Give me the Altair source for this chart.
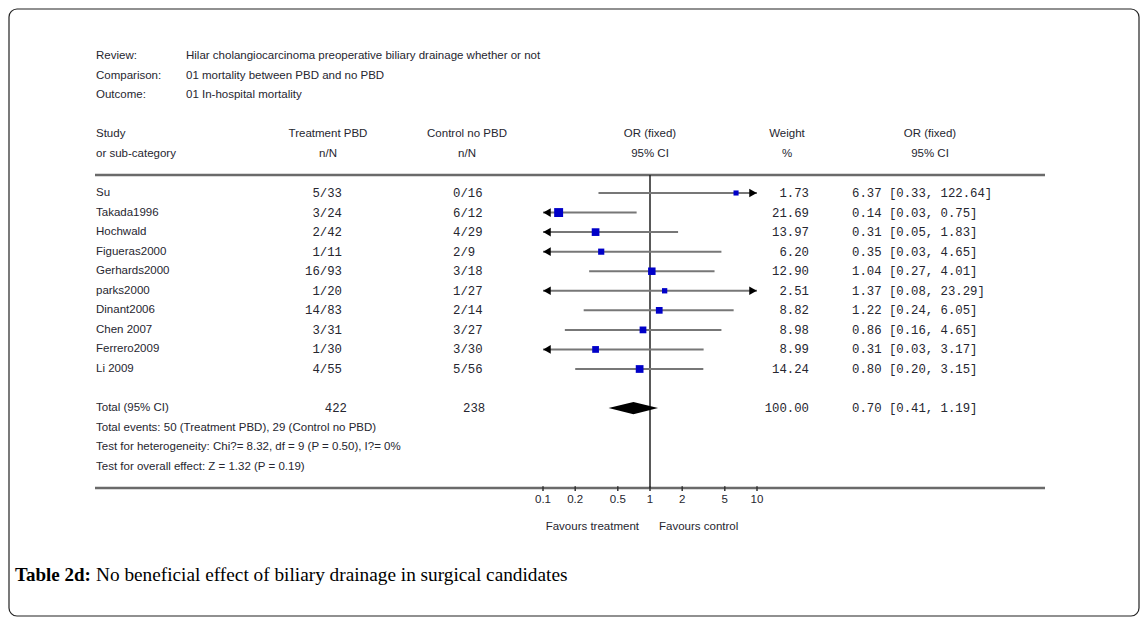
"""Forest plot: preoperative biliary drainage and in-hospital mortality"""

import pandas as pd
import altair as alt

# ---------------------------
# Data
# ---------------------------
studies = ["Su", "Takada1996", "Hochwald", "Figueras2000", "Gerhards2000",
           "parks2000", "Dinant2006", "Chen 2007", "Ferrero2009", "Li 2009"]
treatment_nN = ["5/33", "3/24", "2/42", "1/11", "16/93", "1/20", "14/83", "3/31", "1/30", "4/55"]
control_nN = ["0/16", "6/12", "4/29", "2/9", "3/18", "1/27", "2/14", "3/27", "3/30", "5/56"]
weights = [1.73, 21.69, 13.97, 6.20, 12.90, 2.51, 8.82, 8.98, 8.99, 14.24]
odds_ratios = [6.37, 0.14, 0.31, 0.35, 1.04, 1.37, 1.22, 0.86, 0.31, 0.80]
ci_low = [0.33, 0.03, 0.05, 0.03, 0.27, 0.08, 0.24, 0.16, 0.03, 0.20]
ci_high = [122.64, 0.75, 1.83, 4.65, 4.01, 23.29, 6.05, 4.65, 3.17, 3.15]

total_treatment = "422"
total_control = "238"
total_weight = 100.00
total_or, total_low, total_high = 0.70, 0.41, 1.19

axis_ticks = [0.1, 0.2, 0.5, 1, 2, 5, 10]
axis_min, axis_max = 0.1, 10

header_info = [
    ("Review:", "Hilar cholangiocarcinoma preoperative biliary drainage whether or not"),
    ("Comparison:", "01 mortality  between PBD  and no PBD"),
    ("Outcome:", "01 In-hospital mortality"),
]
footer_lines = [
    "Total events: 50 (Treatment  PBD), 29 (Control no PBD)",
    "Test for heterogeneity: Chi?= 8.32, df = 9 (P = 0.50), I?= 0%",
    "Test for overall effect: Z = 1.32 (P = 0.19)",
]

# ---------------------------
# Layout / style
# ---------------------------
W, H = 1132, 609
SANS = "Liberation Sans"
MONO = "Liberation Mono"
INK = "#26262f"
SANS_SIZE = 11.5
MONO_SIZE = 12.3

TOTAL_ROW = 11
TOP_LINE_ROW = -0.92
AXIS_ROW = 15.08

yscale = alt.Scale(domain=[0, 9], range=[185, 361], nice=False, zero=False)
xscale = alt.Scale(type="log", domain=[axis_min, axis_max], range=[535, 749], nice=False)


def text_layer(rows, labels, x, align="left", font=SANS, size=SANS_SIZE, weight="normal"):
    df = pd.DataFrame({"row": rows, "label": labels})
    return alt.Chart(df).mark_text(
        align=align, baseline="middle", font=font, fontSize=size,
        fontWeight=weight, color=INK
    ).encode(
        x=alt.value(x),
        y=alt.Y("row:Q", scale=yscale, axis=None),
        text="label:N",
    )


rows = list(range(len(studies)))
study_df = pd.DataFrame({
    "row": rows,
    "study": studies,
    "weight": weights,
    "or": odds_ratios,
    "lo": ci_low,
    "hi": ci_high,
})
study_df["lo_c"] = study_df["lo"].clip(lower=axis_min)
study_df["hi_c"] = study_df["hi"].clip(upper=axis_max)

# Header block
layers = [
    text_layer([-7, -6, -5], [h[0] for h in header_info], 88),
    text_layer([-7, -6, -5], [h[1] for h in header_info], 178),
    text_layer([-3, -2], ["Study", "or sub-category"], 88),
    text_layer([-3, -2], ["Treatment  PBD", "n/N"], 320, align="center"),
    text_layer([-3, -2], ["Control no PBD", "n/N"], 459, align="center"),
    text_layer([-3, -2], ["OR (fixed)", "95% CI"], 642, align="center"),
    text_layer([-3, -2], ["Weight", "%"], 779, align="center"),
    text_layer([-3, -2], ["OR (fixed)", "95% CI"], 922, align="center"),
]

# Study columns
layers += [
    text_layer(rows, studies, 88),
    text_layer(rows, treatment_nN, 334, align="right", font=MONO, size=MONO_SIZE),
    text_layer(rows, control_nN, 445, font=MONO, size=MONO_SIZE),
    text_layer(rows, [f"{w:.2f}" for w in weights], 801, align="right", font=MONO, size=MONO_SIZE),
    text_layer(rows, [f"{o:.2f} [{l:.2f}, {h:.2f}]" for o, l, h in zip(odds_ratios, ci_low, ci_high)],
               844, font=MONO, size=MONO_SIZE),
]

# Total + footer
layers += [
    text_layer([TOTAL_ROW], ["Total (95% CI)"], 88),
    text_layer([TOTAL_ROW], [total_treatment], 339, align="right", font=MONO, size=MONO_SIZE),
    text_layer([TOTAL_ROW], [total_control], 455, font=MONO, size=MONO_SIZE),
    text_layer([TOTAL_ROW], [f"{total_weight:.2f}"], 801, align="right", font=MONO, size=MONO_SIZE),
    text_layer([TOTAL_ROW], [f"{total_or:.2f} [{total_low:.2f}, {total_high:.2f}]"], 844,
               font=MONO, size=MONO_SIZE),
    text_layer([12, 13, 14], footer_lines, 88),
]

# Separator lines
sep_df = pd.DataFrame({"row": [TOP_LINE_ROW, AXIS_ROW]})
layers.append(
    alt.Chart(sep_df).mark_rule(color="#6a6a6a", strokeWidth=2.5).encode(
        x=alt.value(87), x2=alt.value(1037),
        y=alt.Y("row:Q", scale=yscale, axis=None),
    )
)

# Line of no effect
null_df = pd.DataFrame({"x": [1.0], "top": [TOP_LINE_ROW], "bottom": [AXIS_ROW]})
layers.append(
    alt.Chart(null_df).mark_rule(color="#222222", strokeWidth=1.5).encode(
        x=alt.X("x:Q", scale=xscale, axis=None),
        y=alt.Y("top:Q", scale=yscale, axis=None),
        y2="bottom:Q",
    )
)

# Confidence intervals
layers.append(
    alt.Chart(study_df).mark_rule(color="#777777", strokeWidth=2).encode(
        x=alt.X("lo_c:Q", scale=xscale, axis=None),
        x2="hi_c:Q",
        y=alt.Y("row:Q", scale=yscale, axis=None),
    )
)

# Arrow heads where CI runs off the axis
left_df = study_df[study_df["lo"] < axis_min]
right_df = study_df[study_df["hi"] > axis_max]
layers.append(
    alt.Chart(left_df).mark_point(shape="triangle-left", filled=True, color="black",
                                  size=75, opacity=1, xOffset=4).encode(
        x=alt.X("lo_c:Q", scale=xscale, axis=None),
        y=alt.Y("row:Q", scale=yscale, axis=None),
    )
)
layers.append(
    alt.Chart(right_df).mark_point(shape="triangle-right", filled=True, color="black",
                                   size=75, opacity=1, xOffset=-4).encode(
        x=alt.X("hi_c:Q", scale=xscale, axis=None),
        y=alt.Y("row:Q", scale=yscale, axis=None),
    )
)

# Point estimates, sized by weight
layers.append(
    alt.Chart(study_df).mark_square(color="#0000c8", opacity=1).encode(
        x=alt.X("or:Q", scale=xscale, axis=None),
        y=alt.Y("row:Q", scale=yscale, axis=None),
        size=alt.Size("weight:Q", scale=alt.Scale(domain=[1.73, 21.69], range=[26, 80]), legend=None),
    )
)

# Pooled diamond
half = 0.31
diamond_df = pd.DataFrame({
    "x": [total_low, total_or, total_high],
    "top": [TOTAL_ROW, TOTAL_ROW - half, TOTAL_ROW],
    "bottom": [TOTAL_ROW, TOTAL_ROW + half, TOTAL_ROW],
})
layers.append(
    alt.Chart(diamond_df).mark_area(color="black", orient="vertical", opacity=1).encode(
        x=alt.X("x:Q", scale=xscale, axis=None),
        y=alt.Y("top:Q", scale=yscale, axis=None),
        y2="bottom:Q",
    )
)

# Axis ticks and labels
tick_df = pd.DataFrame({
    "x": axis_ticks,
    "label": [f"{t:g}" for t in axis_ticks],
    "top": [AXIS_ROW - 0.08] * len(axis_ticks),
    "bottom": [AXIS_ROW + 0.16] * len(axis_ticks),
    "lab_row": [15.72] * len(axis_ticks),
})
layers.append(
    alt.Chart(tick_df).mark_rule(color="#333333", strokeWidth=1.5).encode(
        x=alt.X("x:Q", scale=xscale, axis=None),
        y=alt.Y("top:Q", scale=yscale, axis=None),
        y2="bottom:Q",
    )
)
layers.append(
    alt.Chart(tick_df).mark_text(font=SANS, fontSize=SANS_SIZE, color=INK, baseline="middle").encode(
        x=alt.X("x:Q", scale=xscale, axis=None),
        y=alt.Y("lab_row:Q", scale=yscale, axis=None),
        text="label:N",
    )
)
layers += [
    text_layer([17.07], ["Favours treatment"], 631, align="right"),
    text_layer([17.07], ["Favours control"], 651),
]

# Caption
caption_df = pd.DataFrame({"bold": ["Table 2d:"],
                           "rest": ["No beneficial effect of biliary drainage in surgical candidates"]})
layers.append(
    alt.Chart(caption_df).mark_text(align="left", baseline="middle", font="Liberation Serif",
                                    fontSize=19, fontWeight="bold", color="black").encode(
        x=alt.value(7), y=alt.value(567), text="bold:N"
    )
)
layers.append(
    alt.Chart(caption_df).mark_text(align="left", baseline="middle", font="Liberation Serif",
                                    fontSize=19.3, color="black").encode(
        x=alt.value(88), y=alt.value(567), text="rest:N"
    )
)

# Rounded frame
layers.append(
    alt.Chart(pd.DataFrame({"k": [0]})).mark_rect(
        fill=None, stroke="#222222", strokeWidth=1.2, cornerRadius=8
    ).encode(
        x=alt.value(1), x2=alt.value(W - 1), y=alt.value(1), y2=alt.value(H - 1)
    )
)

chart = alt.layer(*layers).properties(
    width=W, height=H, padding=0, autosize=alt.AutoSizeParams(type="none")
).configure_view(stroke=None)

chart.save("out.html", embed_options={"renderer": "svg", "actions": False})
